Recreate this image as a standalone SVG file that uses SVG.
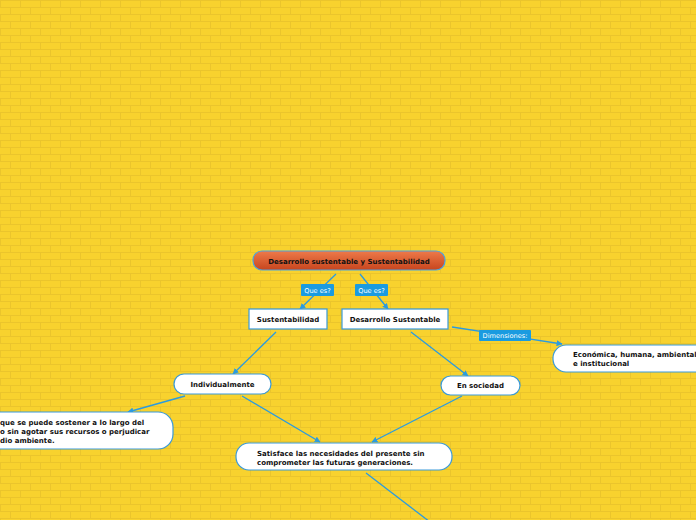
<svg xmlns="http://www.w3.org/2000/svg" width="696" height="520" viewBox="0 0 696 520">
<defs>
<pattern id="bricks" x="0" y="0" width="40" height="14" patternUnits="userSpaceOnUse">
<rect width="40" height="14" fill="#F8D22E"/>
<path d="M0 0.5H40M0 7.5H40M0.5 0V7M20.5 0V7M10.5 7V14M30.5 7V14" stroke="#EBC52C" stroke-width="1" fill="none"/>
</pattern>
<linearGradient id="rootg" x1="0" y1="0" x2="0" y2="1">
<stop offset="0" stop-color="#EE7A4A"/>
<stop offset="1" stop-color="#C7451E"/>
</linearGradient>
<marker id="arr" viewBox="0 0 10 10" refX="9" refY="5" markerWidth="6" markerHeight="6" orient="auto" markerUnits="userSpaceOnUse">
<path d="M0 0L10 5L0 10z" fill="#2A9BE0"/>
</marker>
</defs>
<style>
.c{stroke:#2A9BE0;stroke-width:1.3;fill:none}
.n{fill:#FFFFFF;stroke:#3A9AD9;stroke-width:1.2}
.t{font-family:"DejaVu Sans",Verdana,sans-serif;font-size:7px;font-weight:bold;fill:#111}
.lb{fill:#1A9BE0}
.lt{font-family:"DejaVu Sans",Verdana,sans-serif;font-size:6.6px;fill:#FFFFFF}
</style>
<rect width="696" height="520" fill="url(#bricks)"/>
<g id="connectors">
<line class="c" x1="336" y1="274" x2="300" y2="309" marker-end="url(#arr)"/>
<line class="c" x1="360" y1="274" x2="388" y2="309" marker-end="url(#arr)"/>
<line class="c" x1="276" y1="332" x2="233" y2="374" marker-end="url(#arr)"/>
<line class="c" x1="411" y1="332" x2="468" y2="376" marker-end="url(#arr)"/>
<line class="c" x1="452" y1="327" x2="562" y2="344" marker-end="url(#arr)"/>
<line class="c" x1="185" y1="396" x2="128" y2="412" marker-end="url(#arr)"/>
<line class="c" x1="242" y1="396" x2="320" y2="442" marker-end="url(#arr)"/>
<line class="c" x1="462" y1="396" x2="372" y2="442" marker-end="url(#arr)"/>
<line class="c" x1="366" y1="473" x2="430" y2="522"/>
<g id="label-quees1"><rect class="lb" x="301" y="284" width="33" height="12" rx="1"/><text class="lt" x="317.5" y="292.5" text-anchor="middle">Que es?</text></g>
<g id="label-quees2"><rect class="lb" x="355" y="284" width="33" height="12" rx="1"/><text class="lt" x="371.5" y="292.5" text-anchor="middle">Que es?</text></g>
<g id="label-dim"><rect class="lb" x="479" y="330" width="52" height="11" rx="1"/><text class="lt" x="505" y="338" text-anchor="middle">Dimensiones:</text></g>
</g>
<g id="root">
<rect x="253" y="251" width="192" height="19" rx="9" fill="url(#rootg)" stroke="#4AA3DF" stroke-width="1.2"/>
<text class="t" x="349" y="263.5" text-anchor="middle">Desarrollo sustentable y Sustentabilidad</text>
</g>
<g id="sustentabilidad">
<rect class="n" x="249" y="309" width="78" height="20"/>
<text class="t" x="288" y="321.5" text-anchor="middle">Sustentabilidad</text>
</g>
<g id="desarrollo">
<rect class="n" x="342" y="309" width="106" height="20"/>
<text class="t" x="395" y="321.5" text-anchor="middle">Desarrollo Sustentable</text>
</g>
<g id="individualmente">
<rect class="n" x="174" y="374" width="97" height="20" rx="10"/>
<text class="t" x="222.5" y="386.5" text-anchor="middle">Individualmente</text>
</g>
<g id="ensociedad">
<rect class="n" x="441" y="376" width="79" height="19" rx="9.5"/>
<text class="t" x="480.5" y="388" text-anchor="middle">En sociedad</text>
</g>
<g id="dimensiones">
<rect class="n" x="553" y="345" width="160" height="27" rx="13"/>
<text class="t" x="573" y="357">Económica, humana, ambiental</text>
<text class="t" x="573" y="366">e institucional</text>
</g>
<g id="sostener">
<rect class="n" x="-20" y="412" width="193" height="37" rx="15"/>
<text class="t" x="0" y="425">que se puede sostener a lo largo del</text>
<text class="t" x="0" y="434">o sin agotar sus recursos o perjudicar</text>
<text class="t" x="0" y="443">dio ambiente.</text>
</g>
<g id="satisface">
<rect class="n" x="236" y="443" width="216" height="27" rx="13"/>
<text class="t" x="257" y="455.5">Satisface las necesidades del presente sin</text>
<text class="t" x="257" y="464.5">comprometer las futuras generaciones.</text>
</g>
</svg>
